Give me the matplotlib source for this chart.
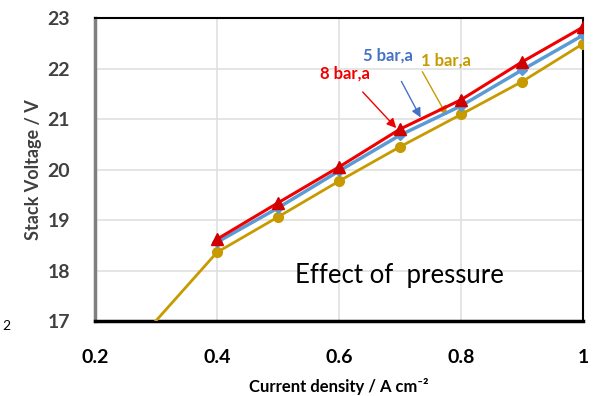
import matplotlib.pyplot as plt

plt.rcParams['font.family'] = ['Lato', 'DejaVu Sans']

current = [0.2, 0.4, 0.5, 0.6, 0.7, 0.8, 0.9, 1.0]
v_1bar = [15.65, 18.36, 19.06, 19.77, 20.45, 21.09, 21.74, 22.49]
current_hp = [0.4, 0.5, 0.6, 0.7, 0.8, 0.9, 1.0]
v_5bar = [18.56, 19.24, 19.97, 20.68, 21.26, 21.97, 22.66]
v_8bar = [18.62, 19.34, 20.05, 20.80, 21.38, 22.13, 22.82]

fig = plt.figure(figsize=(5.99, 3.96), dpi=100)
ax = fig.add_axes([0.1586, 0.1894, 0.8147, 0.7651])

gold = '#C79A00'
blue = '#5B9BD5'
red = '#F00000'

ax.plot(current, v_1bar, color=gold, lw=2, marker='o', ms=7, zorder=3)
ax.plot(current_hp, v_5bar, color=blue, lw=2.5, marker='D', ms=5, zorder=4)
ax.plot(current_hp, v_8bar, color=red, lw=2.2, marker='^', ms=8,
        mfc='#D00000', mec='#D00000', zorder=5)

ax.set_xlim(0.2, 1.0)
ax.set_ylim(17, 23)
ax.set_xticks([0.2, 0.4, 0.6, 0.8, 1.0])
ax.set_xticklabels(['0.2', '0.4', '0.6', '0.8', '1'])
ax.set_yticks(range(17, 24))
ax.grid(True, color='#E0E0E0', lw=1.2)
ax.set_axisbelow(True)
for s in ['top', 'right', 'bottom']:
    ax.spines[s].set_color('black')
ax.spines['top'].set_linewidth(1.5)
ax.spines['right'].set_linewidth(1.5)
ax.spines['bottom'].set_linewidth(2.5)
ax.spines['left'].set_color('#7F7F7F')
ax.spines['left'].set_linewidth(2.5)
ax.tick_params(length=0)
ax.tick_params(axis='x', pad=20, labelsize=14)
ax.tick_params(axis='y', pad=18, labelsize=14, labelcolor='#404040')
for lab in ax.get_xticklabels() + ax.get_yticklabels():
    lab.set_fontweight('bold')

ax.set_xlabel('Current density / A cm⁻²', fontsize=12,
              fontweight='bold', labelpad=9)
ax.set_ylabel('Stack Voltage / V', fontsize=13, fontweight='bold',
              color='#404040', labelpad=4)

ax.text(0.528, 17.91, 'Effect of  pressure', fontsize=18.5, ha='left', va='center')

ax.annotate('8 bar,a', xy=(0.697, 20.78), xytext=(0.610, 21.91),
            color=red, fontsize=12, fontweight='bold', ha='center', va='center',
            arrowprops=dict(arrowstyle='-|>', color=red, lw=1, mutation_scale=14,
                            shrinkA=8))
ax.annotate('5 bar,a', xy=(0.736, 20.98), xytext=(0.680, 22.25),
            color='#4472C4', fontsize=12, fontweight='bold', ha='center', va='center',
            arrowprops=dict(arrowstyle='-|>', color='#4472C4', lw=1, mutation_scale=14,
                            shrinkA=12))
ax.annotate('1 bar,a', xy=(0.779, 21.02), xytext=(0.775, 22.15),
            color=gold, fontsize=12, fontweight='bold', ha='center', va='center',
            arrowprops=dict(arrowstyle='-|>', color=gold, lw=1, mutation_scale=14,
                            shrinkA=0, relpos=(0.0, 0.0)))

fig.text(0.003, 1 - 330 / 396, '2', fontsize=10)

fig.savefig('out.png', dpi=100)
